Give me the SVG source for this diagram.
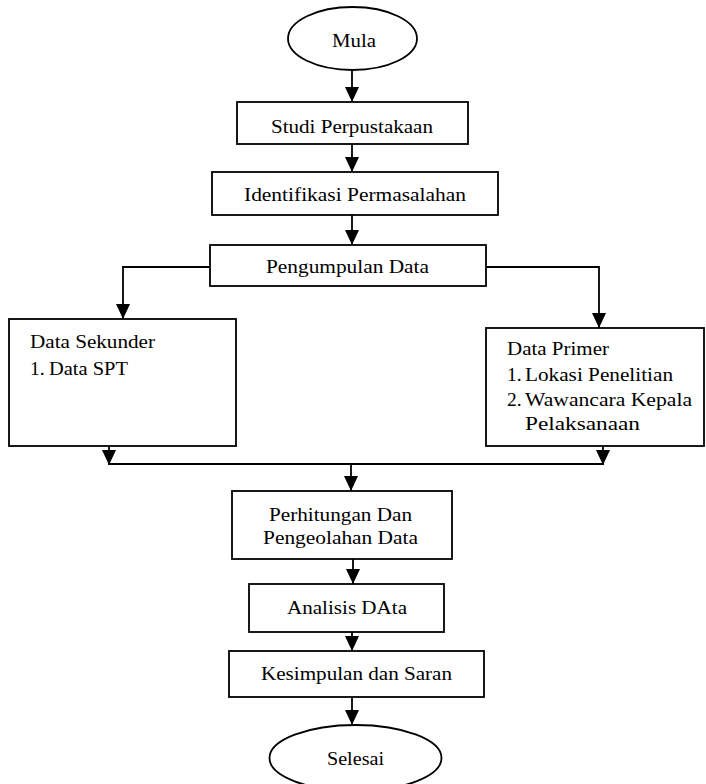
<svg xmlns="http://www.w3.org/2000/svg" width="706" height="784" viewBox="0 0 706 784">
<style>
.box{fill:#fff;stroke:#000;stroke-width:1.8}
.t{font-family:"Liberation Serif","Times New Roman",serif;font-size:19.5px;fill:#000}
.ln{fill:none;stroke:#000;stroke-width:1.8}
</style>
<defs>
<marker id="ah" viewBox="0 0 15 14" refX="15" refY="7" markerWidth="15" markerHeight="14" markerUnits="userSpaceOnUse" orient="auto">
<path d="M0,0 L15,7 L0,14 z" fill="#000"/>
</marker>
</defs>
<rect width="706" height="784" fill="#fff"/>
<g id="connectors">
<path class="ln" d="M352,70 L352,102" marker-end="url(#ah)"/>
<path class="ln" d="M352,144 L352,172" marker-end="url(#ah)"/>
<path class="ln" d="M352,215 L352,245" marker-end="url(#ah)"/>
<path class="ln" d="M210,267 L123,267 L123,319" marker-end="url(#ah)"/>
<path class="ln" d="M486,267 L599,267 L599,328" marker-end="url(#ah)"/>
<path class="ln" d="M109,446 L109,465" marker-end="url(#ah)"/>
<path class="ln" d="M603,446 L603,465" marker-end="url(#ah)"/>
<path class="ln" d="M109,464 L603,464"/>
<path class="ln" d="M351,464 L351,491" marker-end="url(#ah)"/>
<path class="ln" d="M353,559 L353,584" marker-end="url(#ah)"/>
<path class="ln" d="M352,627 L352,651" marker-end="url(#ah)"/>
<path class="ln" d="M352,697 L352,725" marker-end="url(#ah)"/>
</g>
<g id="mula">
<ellipse class="box" cx="352.5" cy="38.5" rx="64.5" ry="31.5"/>
<text class="t" x="332" y="47" textLength="44" lengthAdjust="spacingAndGlyphs">Mula</text>
</g>
<g id="studi">
<rect class="box" x="237" y="102" width="231" height="42"/>
<text class="t" x="271" y="133" textLength="162" lengthAdjust="spacingAndGlyphs">Studi Perpustakaan</text>
</g>
<g id="identifikasi">
<rect class="box" x="212" y="172" width="286" height="43"/>
<text class="t" x="244" y="201" textLength="222" lengthAdjust="spacingAndGlyphs">Identifikasi Permasalahan</text>
</g>
<g id="pengumpulan">
<rect class="box" x="210" y="245" width="276" height="41"/>
<text class="t" x="266" y="273" textLength="163" lengthAdjust="spacingAndGlyphs">Pengumpulan Data</text>
</g>
<g id="sekunder">
<rect class="box" x="9" y="319" width="227" height="127"/>
<text class="t" x="30" y="348" textLength="125" lengthAdjust="spacingAndGlyphs">Data Sekunder</text>
<text class="t" x="30" y="375">1.</text>
<text class="t" x="49" y="375" textLength="79" lengthAdjust="spacingAndGlyphs">Data SPT</text>
</g>
<g id="primer">
<rect class="box" x="486" y="328" width="218" height="118"/>
<text class="t" x="507" y="355" textLength="102" lengthAdjust="spacingAndGlyphs">Data Primer</text>
<text class="t" x="507" y="381">1.</text>
<text class="t" x="525" y="381" textLength="148" lengthAdjust="spacingAndGlyphs">Lokasi Penelitian</text>
<text class="t" x="507" y="406">2.</text>
<text class="t" x="525" y="406" textLength="167" lengthAdjust="spacingAndGlyphs">Wawancara Kepala</text>
<text class="t" x="525" y="430" textLength="115" lengthAdjust="spacingAndGlyphs">Pelaksanaan</text>
</g>
<g id="perhitungan">
<rect class="box" x="232" y="491" width="220" height="68"/>
<text class="t" x="269" y="521" textLength="143" lengthAdjust="spacingAndGlyphs">Perhitungan Dan</text>
<text class="t" x="263" y="544" textLength="155" lengthAdjust="spacingAndGlyphs">Pengeolahan Data</text>
</g>
<g id="analisis">
<rect class="box" x="249" y="584" width="195" height="48"/>
<text class="t" x="287" y="614" textLength="120" lengthAdjust="spacingAndGlyphs">Analisis DAta</text>
</g>
<g id="kesimpulan">
<rect class="box" x="229" y="651" width="255" height="46"/>
<text class="t" x="261" y="680" textLength="191" lengthAdjust="spacingAndGlyphs">Kesimpulan dan Saran</text>
</g>
<g id="selesai">
<ellipse class="box" cx="355.5" cy="758" rx="86" ry="33"/>
<text class="t" x="327" y="765" textLength="57" lengthAdjust="spacingAndGlyphs">Selesai</text>
</g>
</svg>
